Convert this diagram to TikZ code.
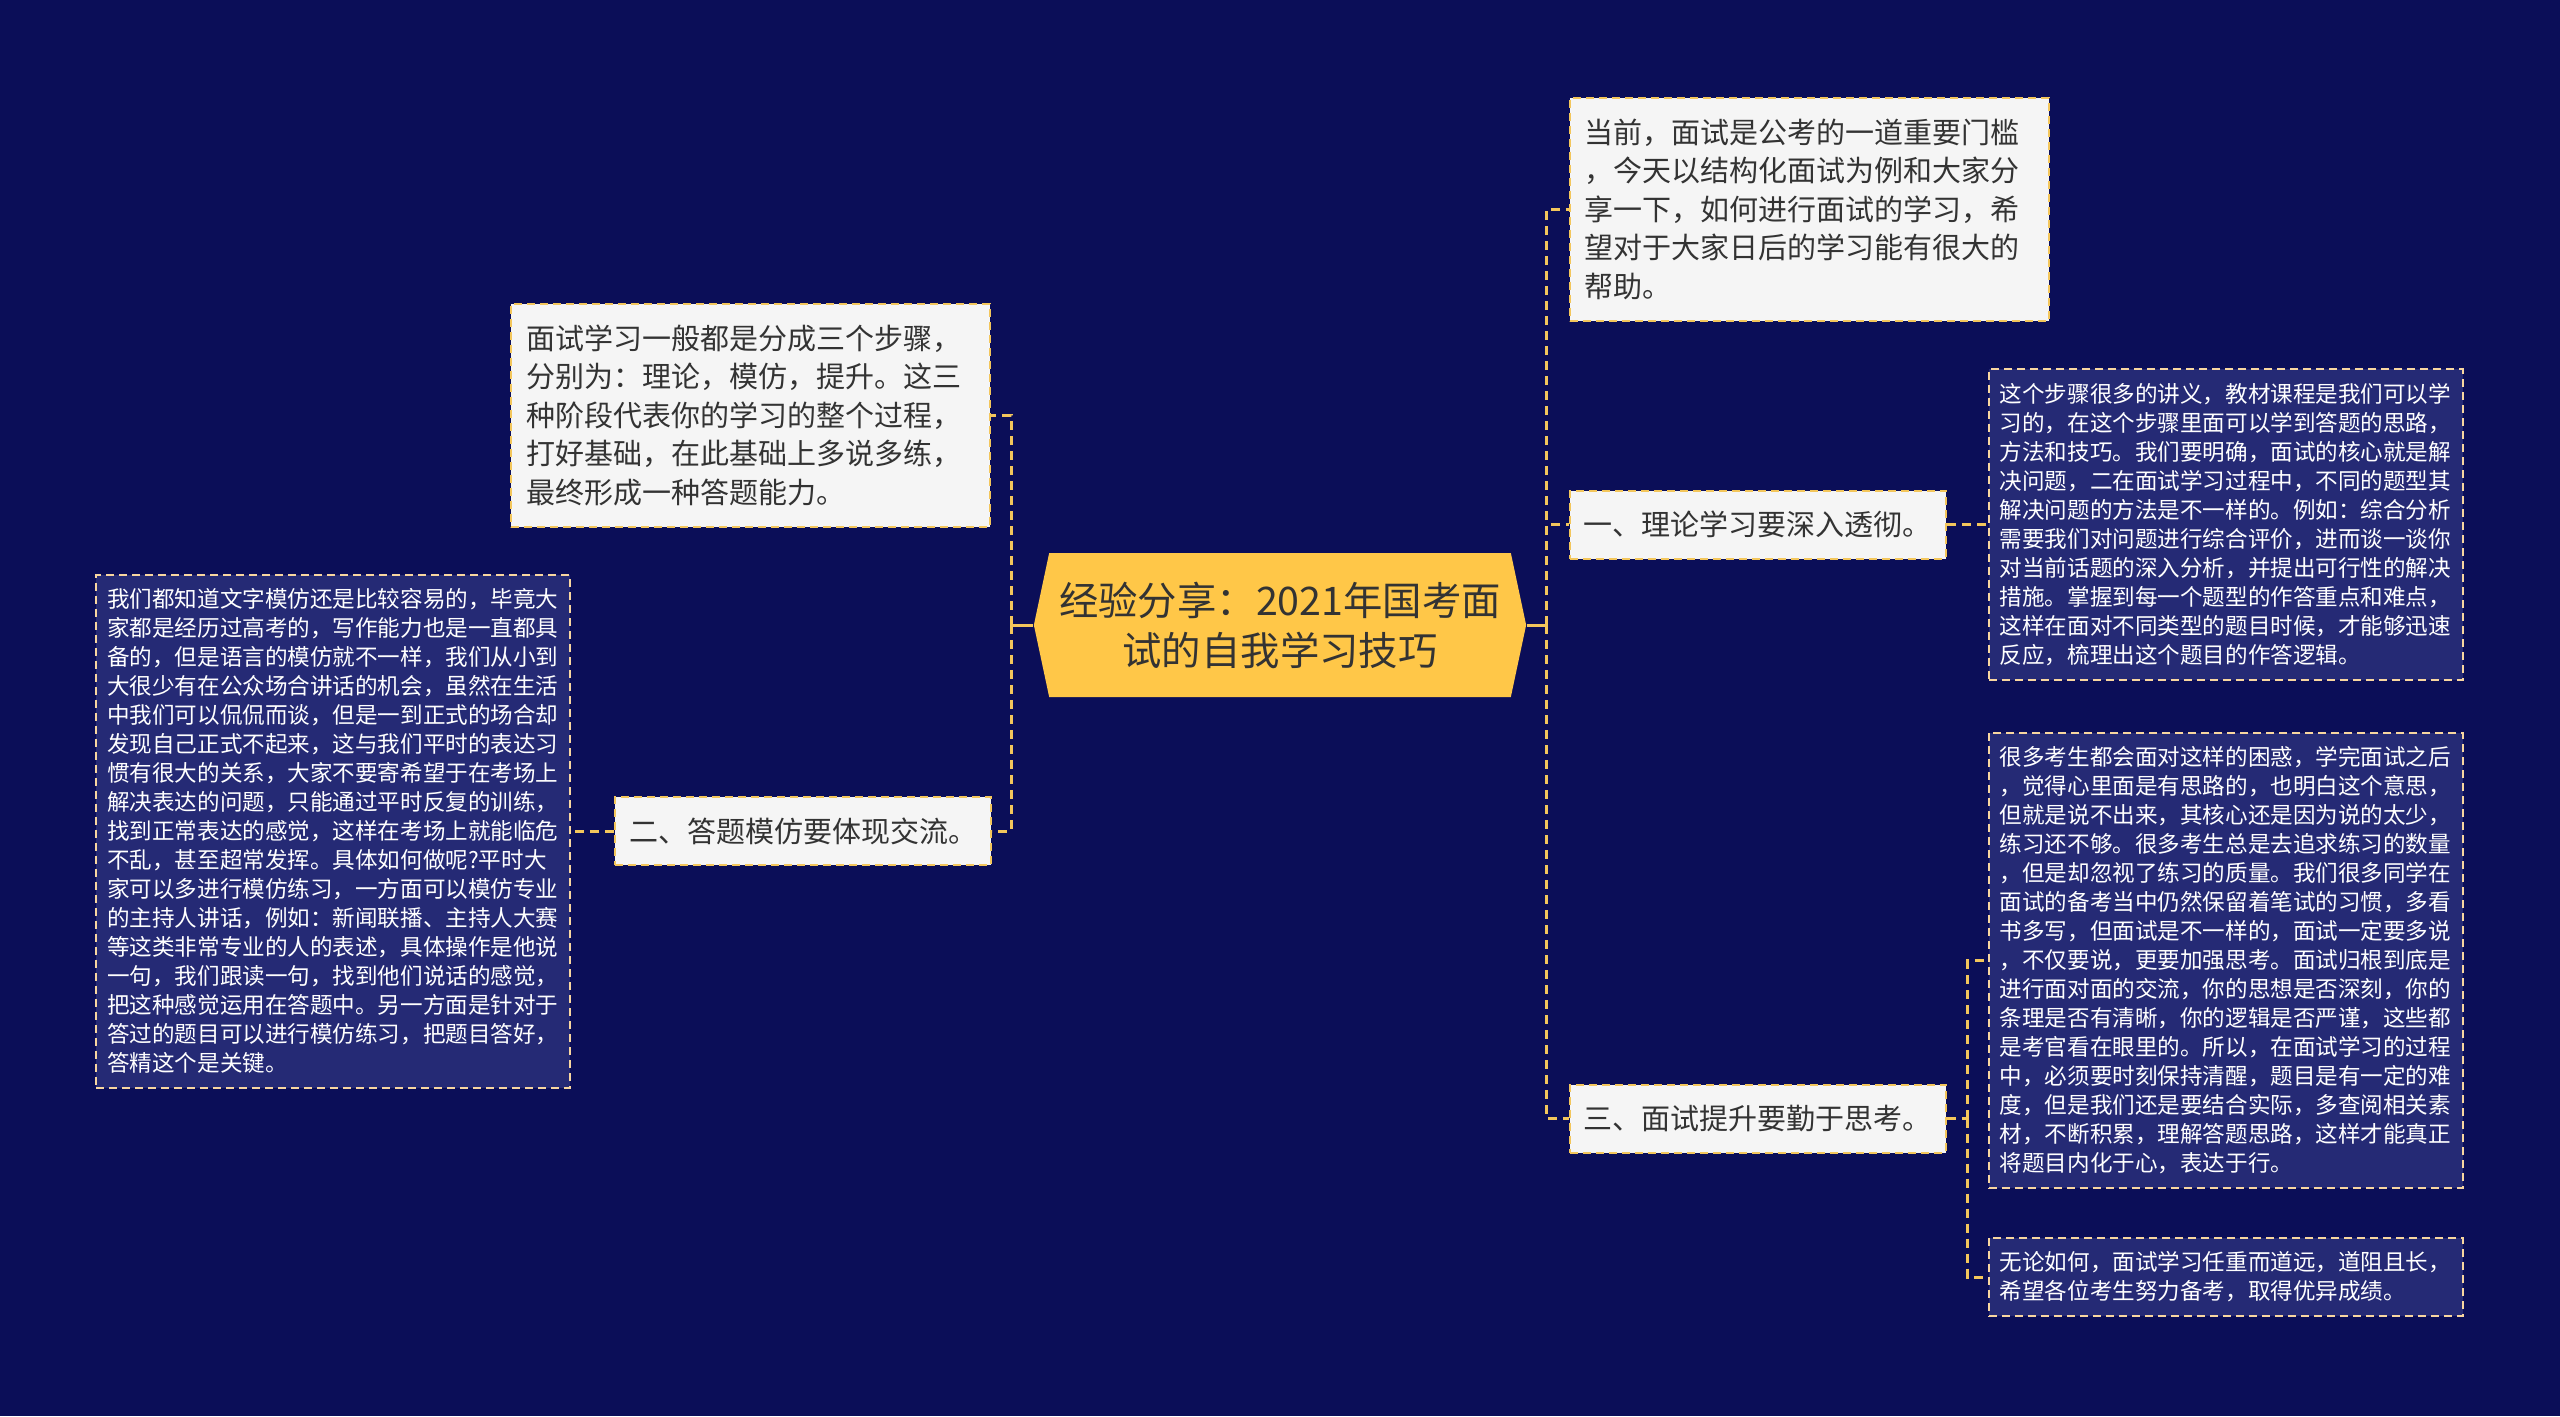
\documentclass[tikz,border=0pt]{standalone}
\usepackage{fontspec}
\setmainfont{Noto Sans CJK SC}
\usepackage{tikz}
\usetikzlibrary{positioning, shapes.symbols}

\definecolor{navy}{RGB}{11,14,88}
\definecolor{deepbox}{RGB}{37,42,117}
\definecolor{gold}{RGB}{255,199,72}
\definecolor{wire}{RGB}{243,198,92}
\definecolor{peach}{RGB}{248,214,160}
\definecolor{paper}{RGB}{245,245,245}
\definecolor{ink}{RGB}{51,51,51}

\begin{document}
\begin{tikzpicture}[
    hub/.style={signal, signal to=east and west, signal pointer angle=156,
                fill=gold, text=ink, align=center, inner xsep=1mm, inner ysep=2mm,
                minimum width=49mm, minimum height=14.4mm,
                font=\fontsize{11.2pt}{14.2pt}\selectfont},
    light/.style={draw=wire, line width=0.2mm, dash pattern=on 0.8mm off 0.5mm,
                  fill=paper, text=ink, align=left, inner xsep=1.5mm, inner ysep=1.5mm,
                  font=\fontsize{8.25pt}{10.95pt}\selectfont},
    note/.style={light, text width=44.9mm, minimum height=22.3mm},
    branch/.style={light, inner xsep=1.4mm, minimum height=6.8mm},
    detail/.style={draw=peach, line width=0.2mm, dash pattern=on 0.8mm off 0.5mm,
                   fill=deepbox, text=white, align=left, text width=45.2mm,
                   inner xsep=1.1mm, inner ysep=1.4mm,
                   font=\fontsize{6.42pt}{8.25pt}\selectfont},
    link/.style={draw=wire, line width=0.3mm, dash pattern=on 0.9mm off 0.6mm},
    stub/.style={draw=wire, line width=0.3mm},
    node distance=4.2mm,
  ]

  \fill[navy] (0,0) rectangle (256mm,-141.6mm);
  \useasboundingbox (0,0) rectangle (256mm,-141.6mm);

  % ---- root
  \node[hub] (hub) at (128mm,-62.5mm) {经验分享：2021年国考面\\试的自我学习技巧};

  % ---- right side
  \node[note, right=of hub, yshift=41.6mm] (intro)
    {当前，面试是公考的一道重要门槛\\，今天以结构化面试为例和大家分\\享一下，如何进行面试的学习，希\\望对于大家日后的学习能有很大的\\帮助。};
  \node[branch, right=of hub, yshift=10.05mm] (theory) {一、理论学习要深入透彻。};
  \node[branch, right=of hub, yshift=-49.35mm] (think) {三、面试提升要勤于思考。};

  \node[detail, right=4.1mm of theory] (theorytxt)
    {这个步骤很多的讲义，教材课程是我们可以学\\习的，在这个步骤里面可以学到答题的思路，\\方法和技巧。我们要明确，面试的核心就是解\\决问题，二在面试学习过程中，不同的题型其\\解决问题的方法是不一样的。例如：综合分析\\需要我们对问题进行综合评价，进而谈一谈你\\对当前话题的深入分析，并提出可行性的解决\\措施。掌握到每一个题型的作答重点和难点，\\这样在面对不同类型的题目时候，才能够迅速\\反应，梳理出这个题目的作答逻辑。};
  \node[detail, right=4.1mm of think, yshift=15.8mm] (thinktxt)
    {很多考生都会面对这样的困惑，学完面试之后\\，觉得心里面是有思路的，也明白这个意思，\\但就是说不出来，其核心还是因为说的太少，\\练习还不够。很多考生总是去追求练习的数量\\，但是却忽视了练习的质量。我们很多同学在\\面试的备考当中仍然保留着笔试的习惯，多看\\书多写，但面试是不一样的，面试一定要多说\\，不仅要说，更要加强思考。面试归根到底是\\进行面对面的交流，你的思想是否深刻，你的\\条理是否有清晰，你的逻辑是否严谨，这些都\\是考官看在眼里的。所以，在面试学习的过程\\中，必须要时刻保持清醒，题目是有一定的难\\度，但是我们还是要结合实际，多查阅相关素\\材，不断积累，理解答题思路，这样才能真正\\将题目内化于心，表达于行。};
  \node[detail, right=4.1mm of think, yshift=-15.85mm] (outro)
    {无论如何，面试学习任重而道远，道阻且长，\\希望各位考生努力备考，取得优异成绩。};

  \coordinate[right=2mm of hub] (rj);
  \coordinate[right=2.1mm of think] (sj);

  \draw[stub] (hub.east) -- (rj);
  \draw[stub] ([yshift=0.9mm]rj) -- ([yshift=-0.9mm]rj);
  \draw[link] (rj) |- (intro.west);
  \draw[link] (rj) |- (theory.west);
  \draw[link] (rj) |- (think.west);
  \draw[link] (theory) -- (theorytxt);
  \draw[link] (think.east) -- (sj);
  \draw[link] (sj) |- (thinktxt.west);
  \draw[link] (sj) |- (outro.west);

  % ---- left side
  \node[note, left=of hub, yshift=21mm] (steps)
    {面试学习一般都是分成三个步骤，\\分别为：理论，模仿，提升。这三\\种阶段代表你的学习的整个过程，\\打好基础，在此基础上多说多练，\\最终形成一种答题能力。};
  \node[branch, left=4.1mm of hub, yshift=-20.6mm] (imitate) {二、答题模仿要体现交流。};
  \node[detail, left=4.3mm of imitate] (imitatetxt)
    {我们都知道文字模仿还是比较容易的，毕竟大\\家都是经历过高考的，写作能力也是一直都具\\备的，但是语言的模仿就不一样，我们从小到\\大很少有在公众场合讲话的机会，虽然在生活\\中我们可以侃侃而谈，但是一到正式的场合却\\发现自己正式不起来，这与我们平时的表达习\\惯有很大的关系，大家不要寄希望于在考场上\\解决表达的问题，只能通过平时反复的训练，\\找到正常表达的感觉，这样在考场上就能临危\\不乱，甚至超常发挥。具体如何做呢?平时大\\家可以多进行模仿练习，一方面可以模仿专业\\的主持人讲话，例如：新闻联播、主持人大赛\\等这类非常专业的人的表述，具体操作是他说\\一句，我们跟读一句，找到他们说话的感觉，\\把这种感觉运用在答题中。另一方面是针对于\\答过的题目可以进行模仿练习，把题目答好，\\答精这个是关键。};

  \coordinate[left=2.2mm of hub] (lj);

  \draw[stub] (hub.west) -- (lj);
  \draw[stub] ([yshift=0.9mm]lj) -- ([yshift=-0.9mm]lj);
  \draw[link] (lj) |- (steps.east);
  \draw[link] (lj) |- (imitate.east);
  \draw[link] (imitate) -- (imitatetxt);
\end{tikzpicture}
\end{document}
